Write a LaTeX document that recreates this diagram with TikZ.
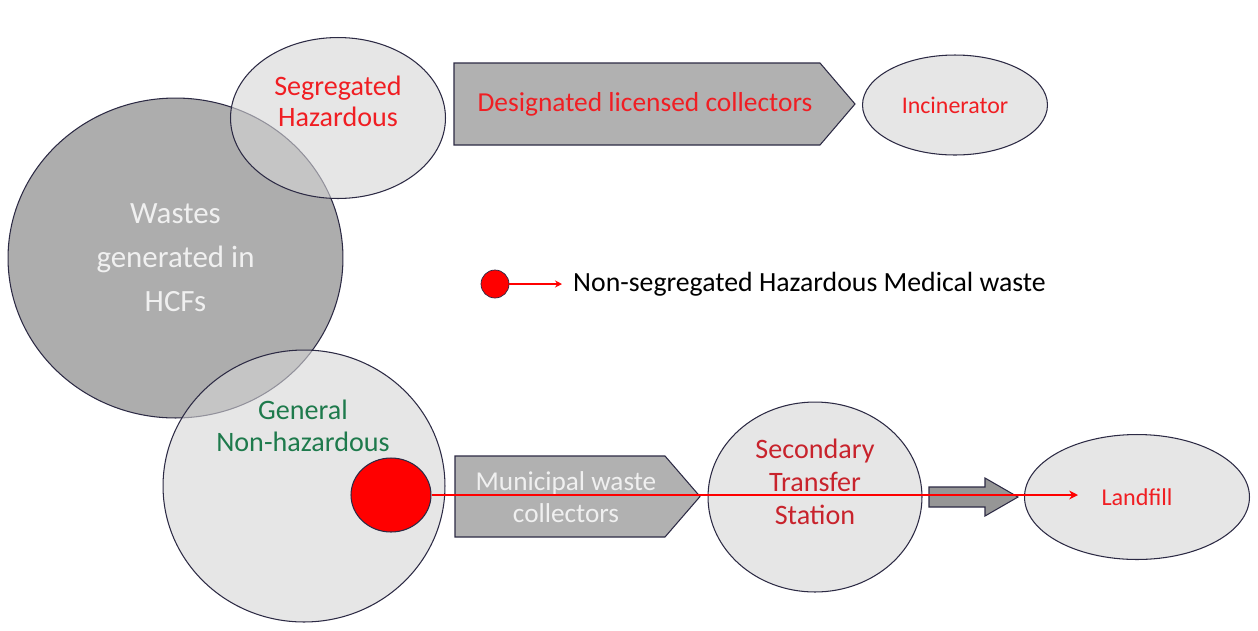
\documentclass[tikz,border=0pt]{standalone}
\usepackage{fontspec}
\setmainfont{Carlito}
\usetikzlibrary{shapes.geometric,arrows.meta,positioning}

\definecolor{bigfill}{HTML}{ADADAD}
\definecolor{lightfill}{HTML}{D6D6D6}
\definecolor{boxfill}{HTML}{B1B1B1}
\definecolor{edge}{HTML}{2C2A44}
\definecolor{hazred}{HTML}{F01E23}
\definecolor{stnred}{HTML}{C8232C}
\definecolor{gengreen}{HTML}{1E7A4C}

\tikzset{
  bin/.style={ellipse,draw=edge,line width=0.6pt,fill=lightfill,fill opacity=0.6,text opacity=1,inner sep=0pt,align=center},
  site/.style={ellipse,draw=edge,line width=0.6pt,fill=lightfill!60,inner sep=0pt,align=center},
  carrier/.style={draw=edge,line width=0.6pt,fill=boxfill,line join=miter},
  redflow/.style={red,line width=1pt,-{Stealth[length=5pt,width=5pt]}},
}

\begin{document}
\begin{tikzpicture}[x=0.02cm,y=-0.02cm]
\useasboundingbox (0,0) rectangle (1258,630);

% source of all waste
\node[ellipse,draw=edge,line width=0.6pt,fill=bigfill,inner sep=0pt,minimum width=6.7cm,minimum height=6.4cm,
  text=white!94!black,align=center,font=\fontsize{17.6}{25}\selectfont] (hcf) at (175.5,258) {Wastes\\generated in\\HCFs};

% hazardous branch
\node[bin,minimum width=4.3cm,minimum height=3.22cm] (seg) at (338,118) {};
\node[text=hazred,align=center,font=\fontsize{16}{17.6}\selectfont] (segtxt) at (338,101) {Segregated\\Hazardous};
\draw[carrier] (454,63) -- (820,63) -- (855,104) -- (820,145) -- (454,145) -- cycle;
\node[text=hazred,font=\fontsize{15.6}{18}\selectfont] (desig) at (645,104) {Designated licensed collectors};
\node[site,minimum width=3.7cm,minimum height=2cm,text=hazred,font=\fontsize{13.6}{15}\selectfont] (incin) at (955,105) {Incinerator};

% legend
\node[circle,draw=edge,fill=red,inner sep=0pt,minimum size=0.56cm] (legdot) at (495,284) {};
\coordinate (legend) at (562,284);
\draw[red,line width=0.6pt,-{Stealth[length=4pt,width=4pt]}] (legdot) -- (legend);
\node[anchor=west,font=\fontsize{15.8}{18}\selectfont] (legtxt) at (567,284) {Non-segregated Hazardous Medical waste};

% non-hazardous branch
\node[bin,minimum width=5.64cm,minimum height=5.44cm] (gen) at (304,486) {};
\node[text=gengreen,align=center,font=\fontsize{16}{18}\selectfont] (gentxt) at (303,426) {General\\Non-hazardous};
\node[ellipse,draw=edge,line width=0.6pt,fill=red,inner sep=0pt,minimum width=1.6cm,minimum height=1.48cm] (hdot) at (391,495) {};
\draw[carrier] (455,456) -- (665,456) -- (700,496.5) -- (665,537) -- (455,537) -- cycle;
\node[text=white!94!black,align=center,font=\fontsize{15.5}{18}\selectfont] (muni) at (566,497) {Municipal waste\\collectors};
\node[site,minimum width=4.28cm,minimum height=3.8cm] (stn) at (815,497) {};
\node[text=stnred,align=center,font=\fontsize{16}{18.8}\selectfont] (stntxt) at (815,482) {Secondary\\Transfer\\Station};
\draw[carrier,fill=boxfill!85!black] (929,487) -- (985,487) -- (985,478) -- (1018,497) -- (985,516) -- (985,507) -- (929,507) -- cycle;
\node[site,minimum width=4.5cm,minimum height=2.5cm,text=hazred,font=\fontsize{13.75}{15}\selectfont] (fill) at (1137,497) {Landfill};

% hazardous waste that was not segregated
\coordinate (dump) at (1078,495);
\draw[redflow] (hdot) -- (dump);

\end{tikzpicture}
\end{document}
